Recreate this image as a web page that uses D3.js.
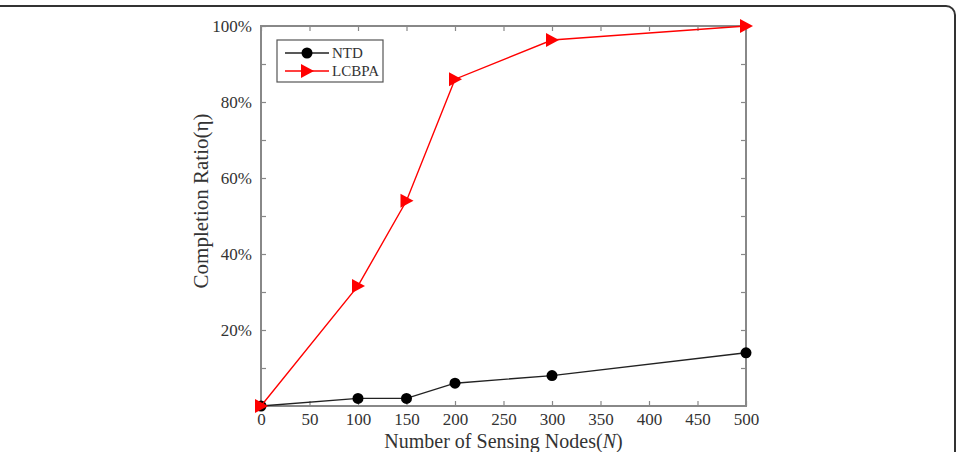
<!DOCTYPE html>
<html>
<head>
<meta charset="utf-8">
<style>
  body { margin: 0; background: #fff; }
  text { font-family: "Liberation Serif", "Times New Roman", serif; fill: #333; }
</style>
<script src="https://d3js.org/d3.v7.min.js"></script>
</head>
<body>
<div id="chart"></div>
<script>
// data
var nodes = [0, 100, 150, 200, 300, 500];
var ntd = [0, 0.02, 0.02, 0.06, 0.08, 0.14];
var lcbpa = [0, 0.316, 0.54, 0.86, 0.963, 1.0];
var xTicks = [0, 50, 100, 150, 200, 250, 300, 350, 400, 450, 500];
var yTicks = [0.1, 0.2, 0.3, 0.4, 0.5, 0.6, 0.7, 0.8, 0.9, 1.0];

var W = 963, H = 452;
var margin = {top: 26, right: 217, bottom: 46, left: 261},
    width = W - margin.left - margin.right,
    height = H - margin.top - margin.bottom;

var svg = d3.select("#chart").append("svg")
  .attr("width", W).attr("height", H);

// frame of the figure (only top and right edge visible)
svg.append("rect")
  .attr("x", -20).attr("y", 6)
  .attr("width", 975).attr("height", 480)
  .attr("rx", 9)
  .attr("fill", "none").attr("stroke", "#333").attr("stroke-width", 2);

var g = svg.append("g")
  .attr("transform", "translate(" + margin.left + "," + margin.top + ")");

var x = d3.scaleLinear().domain([0, 500]).range([0, width]);
var y = d3.scaleLinear().domain([0, 1]).range([height, 0]);

var axisColor = "#888";

// ticks
function styleAxis(sel) {
  sel.select(".domain").remove();
  sel.selectAll(".tick line").attr("stroke", axisColor).attr("stroke-width", 1.2);
  sel.selectAll(".tick text").style("font-size", "17px").attr("fill", "#333");
}

g.append("g")
  .attr("transform", "translate(0," + height + ")")
  .call(d3.axisBottom(x).tickValues(xTicks).tickSize(-5).tickPadding(7))
  .call(styleAxis);

g.append("g")
  .call(d3.axisTop(x).tickValues(xTicks).tickSize(-5).tickFormat(""))
  .call(styleAxis);

g.append("g")
  .call(d3.axisLeft(y).tickValues(yTicks).tickSize(-5).tickPadding(9)
    .tickFormat(function(d) {
      var r = Math.round(d * 100);
      return r % 20 === 0 ? r + "%" : "";
    }))
  .call(styleAxis);

g.append("g")
  .attr("transform", "translate(" + width + ",0)")
  .call(d3.axisRight(y).tickValues(yTicks).tickSize(-5).tickFormat(""))
  .call(styleAxis);

// box
g.append("rect")
  .attr("width", width).attr("height", height)
  .attr("fill", "none").attr("stroke", axisColor).attr("stroke-width", 2);

var line = d3.line()
  .x(function(d) { return x(d[0]); })
  .y(function(d) { return y(d[1]); });

var ntdData = nodes.map(function(n, i) { return [n, ntd[i]]; });
var lcData = nodes.map(function(n, i) { return [n, lcbpa[i]]; });

g.append("path").datum(ntdData)
  .attr("d", line).attr("fill", "none").attr("stroke", "#222").attr("stroke-width", 1.4);

g.selectAll(".dot").data(ntdData).enter().append("circle")
  .attr("class", "dot")
  .attr("cx", function(d) { return x(d[0]); })
  .attr("cy", function(d) { return y(d[1]); })
  .attr("r", 5.5).attr("fill", "#000");

g.append("path").datum(lcData)
  .attr("d", line).attr("fill", "none").attr("stroke", "#f00").attr("stroke-width", 1.4);

var tri = "M-6,-7L7,0L-6,7Z";
g.selectAll(".tri").data(lcData).enter().append("path")
  .attr("class", "tri")
  .attr("d", tri)
  .attr("transform", function(d) { return "translate(" + x(d[0]) + "," + y(d[1]) + ")"; })
  .attr("fill", "#f00");

// legend
var lg = svg.append("g").attr("transform", "translate(277,40)");
lg.append("rect").attr("width", 106).attr("height", 42)
  .attr("fill", "#fff").attr("stroke", "#555").attr("stroke-width", 1.2);
var items = [{name: "NTD", color: "#222", m: "c"}, {name: "LCBPA", color: "#f00", m: "t"}];
items.forEach(function(it, i) {
  var yy = 13 + i * 18;
  lg.append("line").attr("x1", 8).attr("x2", 52).attr("y1", yy).attr("y2", yy)
    .attr("stroke", it.color).attr("stroke-width", 1.3);
  if (it.m === "c") {
    lg.append("circle").attr("cx", 30).attr("cy", yy).attr("r", 5.5).attr("fill", "#000");
  } else {
    lg.append("path").attr("d", tri).attr("transform", "translate(30," + yy + ")").attr("fill", "#f00");
  }
  lg.append("text").attr("x", 55).attr("y", yy + 5).style("font-size", "15px").text(it.name);
});

// axis titles
var xt = svg.append("text")
  .attr("x", margin.left + width / 2).attr("y", 448)
  .attr("text-anchor", "middle").style("font-size", "20px");
xt.append("tspan").text("Number of Sensing Nodes(");
xt.append("tspan").style("font-style", "italic").text("N");
xt.append("tspan").text(")");

svg.append("text")
  .attr("transform", "translate(208," + (margin.top + height / 2 - 15) + ") rotate(-90)")
  .attr("text-anchor", "middle").style("font-size", "21px")
  .text("Completion Ratio(η)");
</script>
</body>
</html>
